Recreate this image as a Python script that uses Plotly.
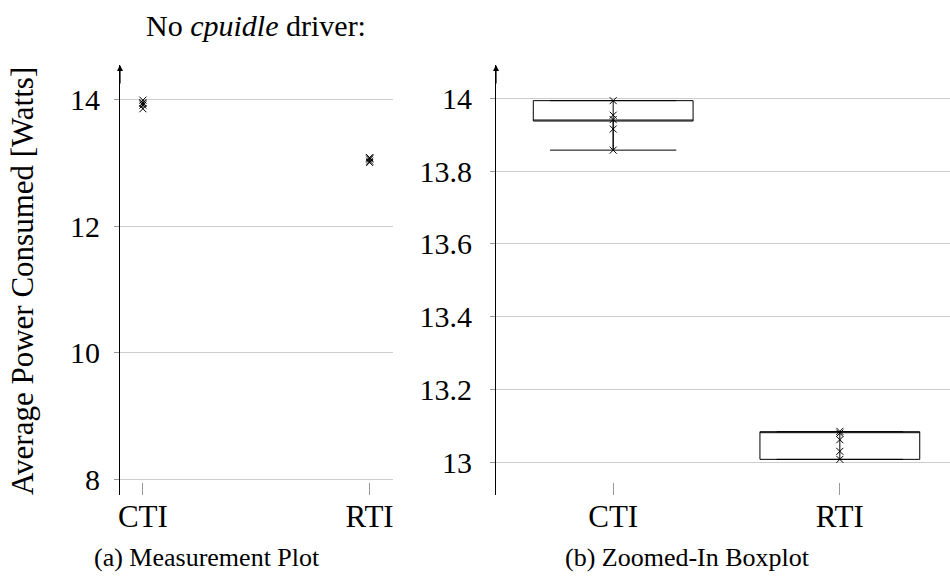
import plotly.graph_objects as go

# ---- data ----
categories = ["CTI", "RTI"]
cat_pos = [0, 1]
cti_values = [13.994, 13.954, 13.942, 13.916, 13.858]
rti_values = [13.085, 13.080, 13.062, 13.030, 13.008]

box_q1 = [13.938, 13.008]
box_median = [13.938, 13.084]
box_q3 = [13.994, 13.084]
box_lower = [13.858, 13.008]
box_upper = [13.994, 13.084]

left_yticks = [8, 10, 12, 14]
right_yticks = [13, 13.2, 13.4, 13.6, 13.8, 14]
right_yticklabels = ["13", "13.2", "13.4", "13.6", "13.8", "14"]

title_text = "No <i>cpuidle</i> driver:"
ylabel = "Average Power Consumed [Watts]"
caption_a = "(a) Measurement Plot"
caption_b = "(b) Zoomed-In Boxplot"

FONT = "Liberation Serif, Times New Roman, serif"
W, H = 950, 579

fig = go.Figure()

series = [cti_values, rti_values]

# left: measurement plot
for pos, vals in zip(cat_pos, series):
    fig.add_trace(go.Scatter(
        x=[pos] * len(vals), y=vals, mode="lines+markers",
        line=dict(color="black", width=1),
        marker=dict(symbol="x-thin", size=7, line=dict(color="black", width=1)),
        xaxis="x", yaxis="y", showlegend=False, hoverinfo="y"))

# right: boxplot
for i, pos in enumerate(cat_pos):
    fig.add_trace(go.Box(
        x=[pos], q1=[box_q1[i]], median=[box_median[i]], q3=[box_q3[i]],
        lowerfence=[box_lower[i]], upperfence=[box_upper[i]],
        width=0.705, whiskerwidth=0.79, boxpoints=False,
        line=dict(color="black", width=1), fillcolor="rgba(255,255,255,0)",
        xaxis="x2", yaxis="y2", showlegend=False))
for pos, vals in zip(cat_pos, series):
    fig.add_trace(go.Scatter(
        x=[pos] * len(vals), y=vals, mode="lines+markers",
        line=dict(color="black", width=1),
        marker=dict(symbol="x-thin", size=7, line=dict(color="black", width=1)),
        xaxis="x2", yaxis="y2", showlegend=False, hoverinfo="y"))

ydom = [1 - 495 / H, 1 - 65 / H]
ytickfont = dict(family=FONT, size=30, color="black")
xtickfont = dict(family=FONT, size=31, color="black")
grid = "#cccccc"

common_y = dict(showgrid=True, gridcolor=grid, gridwidth=1, showline=True,
                linecolor="black", linewidth=1.2, ticks="outside", ticklen=5,
                tickcolor="#999999", tickfont=ytickfont, zeroline=False,
                automargin=False)
common_x = dict(showgrid=False, showline=False, ticks="inside", ticklen=12,
                tickcolor="#999999", tickfont=xtickfont, zeroline=False,
                tickvals=cat_pos, ticktext=categories, automargin=False)

fig.update_layout(
    width=W, height=H, margin=dict(l=0, r=0, t=0, b=0),
    paper_bgcolor="white", plot_bgcolor="white",
    xaxis=dict(domain=[120 / W, 393 / W], range=[-0.101, 1.103], anchor="y", **common_x),
    yaxis=dict(domain=ydom, range=[7.75, 14.55], tickvals=left_yticks,
               anchor="x", ticklabelstandoff=8, **common_y),
    xaxis2=dict(domain=[496 / W, 1.0], range=[-0.517, 1.486], anchor="y2", **common_x),
    yaxis2=dict(domain=ydom, range=[12.91, 14.092], tickvals=right_yticks,
                ticktext=right_yticklabels, anchor="x2", ticklabelstandoff=12, **common_y),
    showlegend=False,
)

annotations = [
    dict(text=title_text, x=256 / W, y=1 - 25 / H, xref="paper", yref="paper",
         showarrow=False, xanchor="center", yanchor="middle",
         font=dict(family=FONT, size=30, color="black")),
    dict(text=ylabel, x=22 / W, y=1 - 281 / H, xref="paper", yref="paper",
         textangle=-90, showarrow=False, xanchor="center", yanchor="middle",
         font=dict(family=FONT, size=31, color="black")),
    dict(text=caption_a, x=207 / W, y=1 - 557 / H, xref="paper", yref="paper",
         showarrow=False, xanchor="center", yanchor="middle",
         font=dict(family=FONT, size=26, color="black")),
    dict(text=caption_b, x=687 / W, y=1 - 557 / H, xref="paper", yref="paper",
         showarrow=False, xanchor="center", yanchor="middle",
         font=dict(family=FONT, size=26, color="black")),
]
for xr, yr in [("x domain", "y domain"), ("x2 domain", "y2 domain")]:
    annotations.append(dict(text="", x=0, y=1, xref=xr, yref=yr, ax=0, ay=20,
                            axref="pixel", ayref="pixel", showarrow=True,
                            arrowhead=2, arrowsize=1, arrowwidth=1.2,
                            arrowcolor="black", standoff=0, startstandoff=0))
fig.update_layout(annotations=annotations)

fig.write_html("out.html")
